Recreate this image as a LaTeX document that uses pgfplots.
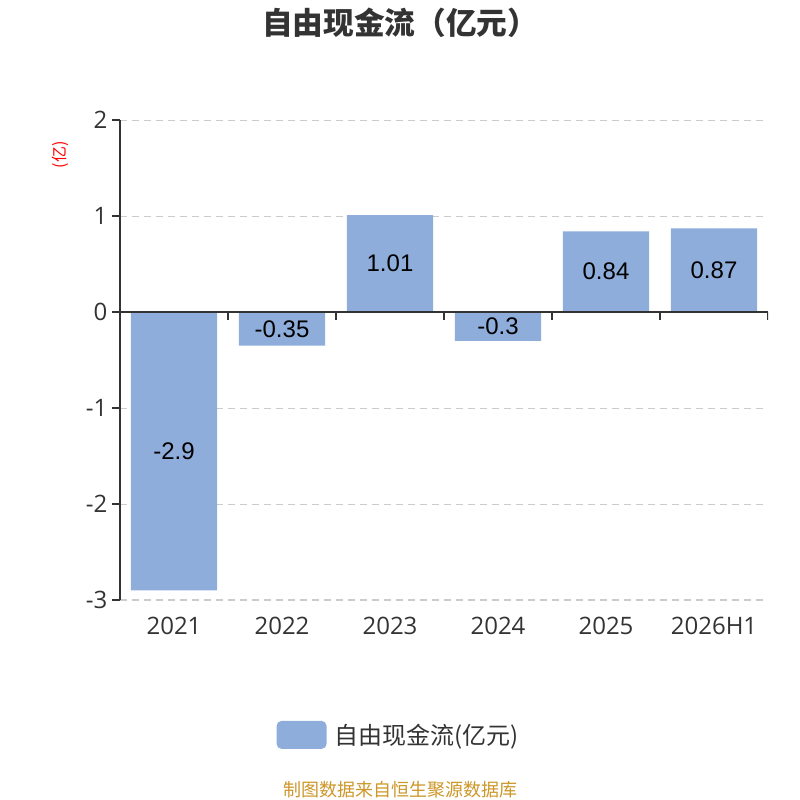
\documentclass[border=0pt]{standalone}
\usepackage{fontspec}
\setmainfont{Open Sans}
\newfontfamily\cjk{Noto Sans CJK SC}
\newfontfamily\lab{Liberation Sans}
\usepackage{pgfplots}
\pgfplotsset{compat=1.18}
\usepackage{pgfplotstable}
\definecolor{barc}{RGB}{142,173,219}
\definecolor{txt}{RGB}{51,51,51}
\definecolor{gridc}{RGB}{204,204,204}
\definecolor{src}{RGB}{204,150,40}
\pgfplotstableread{
x y
0 -2.9
1 -0.35
2 1.01
3 -0.3
4 0.84
5 0.87
}\datatable
\begin{document}
\begin{tikzpicture}
\path[use as bounding box] (0,0) rectangle (600pt,600pt);
\node[font=\cjk\bfseries\fontsize{23}{27}\selectfont, text=txt] at (300pt,582.75pt) {自由现金流（亿元）};
\node[font=\cjk\fontsize{13.5}{16}\selectfont, text=src] at (300pt,7.5pt) {制图数据来自恒生聚源数据库};
\node[font=\cjk\fontsize{12}{14}\selectfont, text=red, rotate=90] at (45pt,483.75pt) {(亿)};
\begin{axis}[
  at={(90pt,150pt)}, anchor=south west,
  scale only axis, width=486pt, height=360pt,
  xmin=-0.5, xmax=5.5, ymin=-3, ymax=2,
  axis y line*=left, axis x line*=bottom,
  x axis line style={draw=none},
  y axis line style={txt, line width=1.1pt},
  xtick={0,...,5},
  xticklabels={2021,2022,2023,2024,2025,2026H1},
  xtick style={draw=none},
  ytick={-3,...,2},
  ytick style={txt, line width=1.1pt},
  tick align=outside,
  major tick length=6pt,
  ymajorgrids,
  grid style={gridc, line width=0.75pt, dash pattern=on 5.25pt off 3.75pt},
  /pgf/number format/assume math mode=true,
  tick label style={font=\fontsize{18}{21}\selectfont, text=txt},
  xticklabel style={yshift=-3pt},
  ybar, bar width=64.8pt,
  legend style={at={(0.4306,-0.281)}, anchor=center, draw=none, fill=none, font=\cjk\fontsize{18}{21}\selectfont, text=txt, inner sep=0pt, /tikz/every odd column/.append style={column sep=4pt}},
  legend image code/.code={\fill[barc, rounded corners=3.75pt] (0pt,-10.5pt) rectangle (37.5pt,10.5pt);},
  legend cell align=left,
]
\addplot[fill=barc, draw=none,
  nodes near coords,
  visualization depends on={y \as \rawy},
  nodes near coords style={font=\lab\fontsize{18}{21}\selectfont, text=black, anchor=center, shift={(axis direction cs:0,-\rawy/2)}},
] table[x=x, y=y] {\datatable};
\addlegendentry{自由现金流(亿元)}
\draw[txt, line width=1.1pt] (axis cs:-0.5,0) -- (axis cs:5.5,0);
\draw[txt, line width=1.1pt] (axis cs:0.5,0) -- ([yshift=-6pt]axis cs:0.5,0);
\draw[txt, line width=1.1pt] (axis cs:1.5,0) -- ([yshift=-6pt]axis cs:1.5,0);
\draw[txt, line width=1.1pt] (axis cs:2.5,0) -- ([yshift=-6pt]axis cs:2.5,0);
\draw[txt, line width=1.1pt] (axis cs:3.5,0) -- ([yshift=-6pt]axis cs:3.5,0);
\draw[txt, line width=1.1pt] (axis cs:4.5,0) -- ([yshift=-6pt]axis cs:4.5,0);
\draw[txt, line width=1.1pt] (axis cs:5.5,0) -- ([yshift=-6pt]axis cs:5.5,0);
\end{axis}
\end{tikzpicture}
\end{document}
